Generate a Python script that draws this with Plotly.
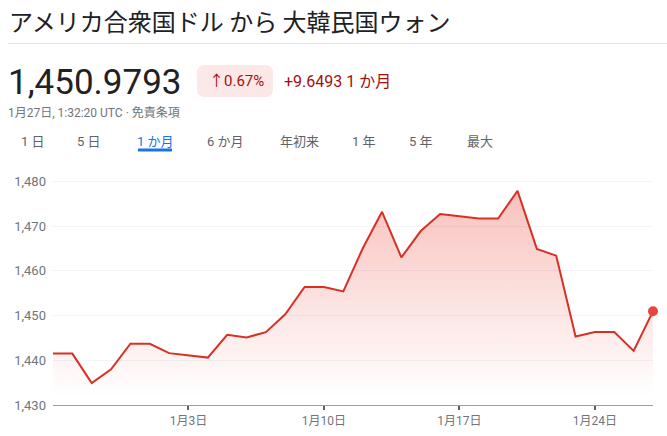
import plotly.graph_objects as go
import pandas as pd

# ---- data ----
dates = pd.date_range("2024-12-27", "2025-01-27", freq="D")
values = [1441.5, 1441.5, 1434.9, 1438.0, 1443.7, 1443.7, 1441.6, 1441.1,
          1440.6, 1445.7, 1445.1, 1446.3, 1450.3, 1456.4, 1456.4, 1455.4,
          1465.0, 1473.2, 1463.0, 1468.9, 1472.7, 1472.2, 1471.7, 1471.7,
          1477.9, 1464.9, 1463.4, 1445.3, 1446.3, 1446.3, 1442.1, 1450.9793]
x_tick_vals = ["2025-01-03", "2025-01-10", "2025-01-17", "2025-01-24"]
x_tick_text = ["1月3日", "1月10日", "1月17日", "1月24日"]
y_tick_vals = [1430, 1440, 1450, 1460, 1470, 1480]
tabs = ["1 日", "5 日", "1 か月", "6 か月", "年初来", "1 年", "5 年", "最大"]
tab_centers = [33, 89, 155, 225, 299, 364, 421, 480]

title_text = "アメリカ合衆国ドル から 大韓民国ウォン"
price_text = "1,450.9793"
change_pct = "↑0.67%"
change_abs = "+9.6493 1 か月"
subtitle = "1月27日, 1:32:20 UTC · 免責条項"

# body margin is removed (post_script), so the figure fills the window
W, H = 667, 436
PL, PR, PT, PB = 53, 653, 168, 405   # plot area in screen pixels
ML, MR, MT, MB = PL, W - PR, PT, H - PB
PW, PH = PR - PL, PB - PT


def px(x):
    return (x - PL) / PW


def py(y):
    return (PB - y) / PH


LINE = "#d93025"
FONT = "Roboto, 'Noto Sans CJK JP', sans-serif"

fig = go.Figure()
fig.add_trace(go.Scatter(
    x=dates, y=values, mode="lines",
    line=dict(color=LINE, width=2),
    fill="tozeroy",
    fillgradient=dict(type="vertical",
                      colorscale=[[0, "rgba(234,67,53,0)"], [1, "rgba(234,67,53,0.33)"]],
                      start=1432, stop=1478),
    hoverinfo="skip", showlegend=False,
))
fig.add_trace(go.Scatter(
    x=[dates[-1]], y=[values[-1]], mode="markers",
    marker=dict(color="#e8453c", size=10),
    showlegend=False, cliponaxis=False,
))

annotations = [
    dict(x=px(7), y=py(20), text=title_text, xanchor="left", yanchor="middle",
         font=dict(size=24, color="#202124", family="'Noto Sans CJK JP', sans-serif")),
    dict(x=px(6), y=py(82), text=price_text, xanchor="left", yanchor="middle",
         font=dict(size=35, color="#202124", family="Roboto, sans-serif")),
    dict(x=px(236), y=py(81), text=change_pct, xanchor="center", yanchor="middle",
         font=dict(size=15, color="#a50e0e", family=FONT)),
    dict(x=px(282), y=py(81), text=change_abs, xanchor="left", yanchor="middle",
         font=dict(size=16, color="#a50e0e", family=FONT)),
    dict(x=px(6), y=py(112), text=subtitle, xanchor="left", yanchor="middle",
         font=dict(size=12, color="#70757a", family=FONT)),
]
for t, c in zip(tabs, tab_centers):
    col = "#1a73e8" if t == "1 か月" else "#5f6368"
    annotations.append(dict(x=px(c), y=py(141), text=t, xanchor="center", yanchor="middle",
                            font=dict(size=13, color=col, family=FONT)))
for a in annotations:
    a.update(xref="paper", yref="paper", showarrow=False)


def rounded_rect(x0, y0, x1, y1, r):
    rx, ry = r / PW, r / PH
    X0, X1 = px(x0), px(x1)
    Y0, Y1 = py(y1), py(y0)
    return (f"M {X0+rx},{Y0} L {X1-rx},{Y0} Q {X1},{Y0} {X1},{Y0+ry} "
            f"L {X1},{Y1-ry} Q {X1},{Y1} {X1-rx},{Y1} L {X0+rx},{Y1} "
            f"Q {X0},{Y1} {X0},{Y1-ry} L {X0},{Y0+ry} Q {X0},{Y0} {X0+rx},{Y0} Z")


shapes = [
    dict(type="line", xref="paper", yref="paper", x0=px(8), x1=px(667), y0=py(43.5), y1=py(43.5),
         line=dict(color="#e3e3e3", width=1)),
    dict(type="path", xref="paper", yref="paper", path=rounded_rect(197, 65, 273, 97, 8),
         fillcolor="#fce8e6", line=dict(width=0)),
    dict(type="line", xref="paper", yref="paper", x0=px(138), x1=px(172), y0=py(150), y1=py(150),
         line=dict(color="#1a73e8", width=3)),
]

fig.update_layout(
    width=W, height=H,
    margin=dict(l=ML, r=MR, t=MT, b=MB, autoexpand=False),
    paper_bgcolor="white", plot_bgcolor="white",
    font=dict(family=FONT),
    showlegend=False,
    hovermode=False,
    annotations=annotations,
    shapes=shapes,
    xaxis=dict(type="date", range=[dates[0], dates[-1]], showgrid=False, zeroline=False,
               automargin=False,
               tickvals=x_tick_vals, ticktext=x_tick_text,
               ticks="outside", ticklen=4, tickwidth=1.5, tickcolor="#5f6368",
               ticklabelstandoff=1,
               showline=True, linecolor="#9aa0a6", linewidth=1,
               tickfont=dict(size=12, color="#70757a")),
    yaxis=dict(range=[1430, 1483], tickvals=y_tick_vals, tickformat=",d",
               automargin=False,
               showgrid=True, gridcolor="#f1f3f4", zeroline=False, showline=False,
               ticklabelstandoff=6,
               tickfont=dict(size=13, color="#70757a")),
)

fig.write_html("out.html", config={"displayModeBar": False},
               post_script="document.body.style.margin='0';")
